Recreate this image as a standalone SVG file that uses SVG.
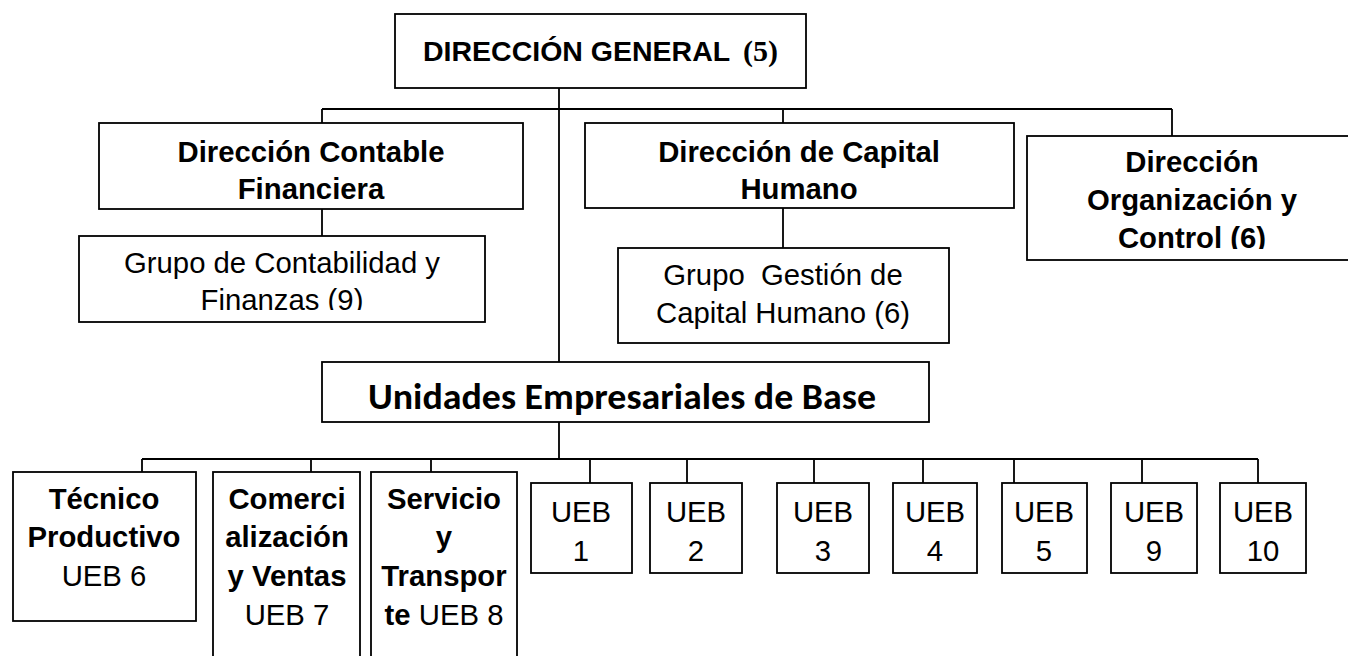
<svg xmlns="http://www.w3.org/2000/svg" width="1348" height="656" viewBox="0 0 1348 656">
<style>
.box{fill:#fff;stroke:#000;stroke-width:1.8}
.ln{stroke:#000;stroke-width:1.8;fill:none}
text{font-family:"Liberation Sans",Arial,sans-serif;font-size:29.3px;fill:#000;text-anchor:middle}
.b{font-weight:bold}
.ser{font-family:"Liberation Serif","Times New Roman",serif;font-weight:bold}
.cal{font-family:Carlito,Lato,sans-serif;font-weight:bold;font-size:36px}
</style>
<defs>
<clipPath id="cGC"><rect x="79" y="236" width="406" height="74"/></clipPath>
<clipPath id="cCH"><rect x="585" y="123" width="429" height="77"/></clipPath>
<clipPath id="cOC"><rect x="1027" y="136" width="330" height="113"/></clipPath>
</defs>
<rect width="1348" height="656" fill="#fff"/>
<g id="connectors">
<path class="ln" d="M559 88V362M322 109H1172M322 109V123M783 109V123M1172 109V136M322 209V236M783 208V248"/>
<path class="ln" d="M559 422V459M142 459H1258M142 459V472M311 459V472M431 459V472M590 459V483M687 459V483M814 459V483M923 459V483M1014 459V483M1142 459V483M1258 459V483"/>
</g>
<g id="direccion-general">
<rect class="box" x="395" y="14" width="411" height="74"/>
<text class="b" x="423" y="61" style="text-anchor:start;font-size:28.5px">DIRECCIÓN GENERAL</text>
<text class="ser" x="743" y="61" style="text-anchor:start;font-size:30px">(5)</text>
</g>
<g id="dir-contable">
<rect class="box" x="99" y="123" width="424" height="86"/>
<text class="b" x="311" y="162">Dirección Contable</text>
<text class="b" x="311" y="199">Financiera</text>
</g>
<g id="grupo-contabilidad">
<rect class="box" x="79" y="236" width="406" height="86"/>
<g clip-path="url(#cGC)">
<text x="282" y="273">Grupo de Contabilidad y</text>
<text x="282" y="310">Finanzas (9)</text>
</g>
</g>
<g id="dir-capital">
<rect class="box" x="585" y="123" width="429" height="85"/>
<g clip-path="url(#cCH)">
<text class="b" x="799" y="162">Dirección de Capital</text>
<text class="b" x="799" y="199">Humano</text>
</g>
</g>
<g id="grupo-gestion">
<rect class="box" x="618" y="248" width="331" height="95"/>
<text x="783" y="285" xml:space="preserve">Grupo  Gestión de</text>
<text x="783" y="323">Capital Humano (6)</text>
</g>
<g id="dir-organizacion">
<rect class="box" x="1027" y="136" width="330" height="124"/>
<g clip-path="url(#cOC)">
<text class="b" x="1192" y="172">Dirección</text>
<text class="b" x="1192" y="210">Organización y</text>
<text class="b" x="1192" y="248">Control (6)</text>
</g>
</g>
<g id="ueb-main">
<rect class="box" x="322" y="362" width="607" height="60"/>
<text class="cal" x="622" y="409" textLength="508" lengthAdjust="spacingAndGlyphs">Unidades Empresariales de Base</text>
</g>
<g id="tecnico">
<rect class="box" x="13" y="472" width="183" height="149"/>
<text class="b" x="104" y="509">Técnico</text>
<text class="b" x="104" y="547">Productivo</text>
<text x="104" y="586">UEB 6</text>
</g>
<g id="comercializacion">
<rect class="box" x="213" y="472" width="147" height="200"/>
<text class="b" x="287" y="509">Comerci</text>
<text class="b" x="287" y="547">alización</text>
<text class="b" x="287" y="586">y Ventas</text>
<text x="287" y="625">UEB 7</text>
</g>
<g id="servicio">
<rect class="box" x="371" y="472" width="146" height="200"/>
<text class="b" x="444" y="509">Servicio</text>
<text class="b" x="444" y="547">y</text>
<text class="b" x="444" y="586">Transpor</text>
<text x="444" y="625"><tspan class="b">te</tspan> UEB 8</text>
</g>
<g id="ueb1"><rect class="box" x="531" y="483" width="101" height="90"/><text x="581" y="522">UEB</text><text x="581" y="561">1</text></g>
<g id="ueb2"><rect class="box" x="650" y="483" width="92" height="90"/><text x="696" y="522">UEB</text><text x="696" y="561">2</text></g>
<g id="ueb3"><rect class="box" x="777" y="483" width="92" height="90"/><text x="823" y="522">UEB</text><text x="823" y="561">3</text></g>
<g id="ueb4"><rect class="box" x="893" y="483" width="84" height="90"/><text x="935" y="522">UEB</text><text x="935" y="561">4</text></g>
<g id="ueb5"><rect class="box" x="1002" y="483" width="85" height="90"/><text x="1044" y="522">UEB</text><text x="1044" y="561">5</text></g>
<g id="ueb9"><rect class="box" x="1111" y="483" width="86" height="90"/><text x="1154" y="522">UEB</text><text x="1154" y="561">9</text></g>
<g id="ueb10"><rect class="box" x="1220" y="483" width="86" height="90"/><text x="1263" y="522">UEB</text><text x="1263" y="561">10</text></g>
</svg>
